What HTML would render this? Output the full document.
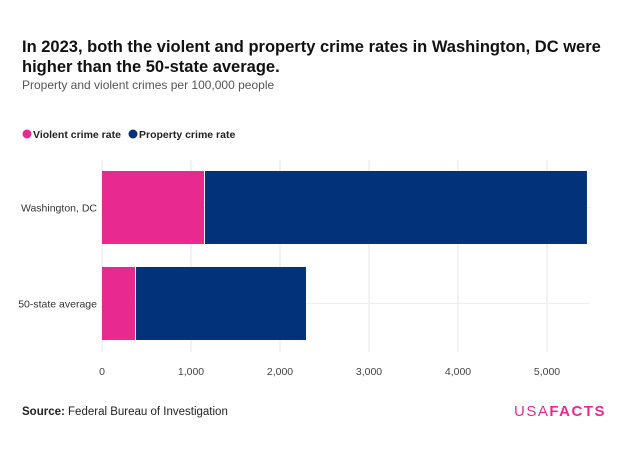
<!DOCTYPE html>
<html><head><meta charset="utf-8"><style>
body{margin:0;background:#fff;width:640px;height:455px;overflow:hidden;font-family:"Liberation Sans",sans-serif}
</style></head><body>
<svg width="640" height="455" xmlns="http://www.w3.org/2000/svg" font-family="Liberation Sans, sans-serif">
<text x="22" y="52" font-size="16.5" font-weight="bold" fill="#111">In 2023, both the violent and property crime rates in Washington, DC were</text>
<text x="22" y="72" font-size="16.5" font-weight="bold" fill="#111">higher than the 50-state average.</text>
<text x="22" y="89" font-size="12" fill="#555">Property and violent crimes per 100,000 people</text>
<g>
<circle cx="27" cy="134" r="4.5" fill="#e8298f"/>
<text x="33" y="138" font-size="10.5" font-weight="bold" fill="#222">Violent crime rate</text>
<circle cx="133" cy="134" r="4.5" fill="#02337a"/>
<text x="139" y="138" font-size="10.5" font-weight="bold" fill="#222">Property crime rate</text>
</g>
<g id="grid"></g><g id="bars"></g><g id="ticks"></g>
<text x="22" y="415" font-size="11.5" fill="#222"><tspan font-weight="bold">Source:</tspan> Federal Bureau of Investigation</text>
<text x="606" y="416" font-size="15" text-anchor="end" fill="#e8298f" letter-spacing="1.5">USA<tspan font-weight="bold">FACTS</tspan></text>
</svg>
<script>
const categories=["Washington, DC","50-state average"];
const violent=[1146,371];
const property=[4303,1921];
const tickValues=[0,1000,2000,3000,4000,5000];
const tickLabels=["0","1,000","2,000","3,000","4,000","5,000"];
const NS="http://www.w3.org/2000/svg";
const x=v=>102+v*0.089;
const yTop=i=>171+i*96;
const bh=73;
function mk(t,a,p){const e=document.createElementNS(NS,t);for(const k in a)e.setAttribute(k,a[k]);p.appendChild(e);return e;}
const g=document.getElementById('grid'),b=document.getElementById('bars'),tk=document.getElementById('ticks');
tickValues.forEach((v,i)=>{
 const l=mk('line',{x1:x(v),x2:x(v),y1:160,y2:352,stroke:'#e6e6e6','stroke-width':1},g);
 
 
 const t=mk('text',{x:x(v),y:375,'font-size':10.5,'text-anchor':'middle',fill:'#444'},tk);
 t.textContent=tickLabels[i];
 
 
});
categories.forEach((c,i)=>{
 const y=yTop(i);
 const h=mk('line',{x1:102,x2:590,y1:y+bh/2,y2:y+bh/2,stroke:'#eee'},g);
 
 
 const r1=mk('rect',{x:x(0),y:y,width:x(violent[i])-x(0),height:bh,fill:'#e8298f'},b);
 
 
 const r2=mk('rect',{x:x(violent[i])+1,y:y,width:x(violent[i]+property[i])-x(violent[i])-1,height:bh,fill:'#02337a'},b);
 
 
 const t=mk('text',{x:97,y:y+bh/2+4,'font-size':10.5,'text-anchor':'end',fill:'#333'},tk);
 t.textContent=c;
 
 
});
</script>
</body></html>
